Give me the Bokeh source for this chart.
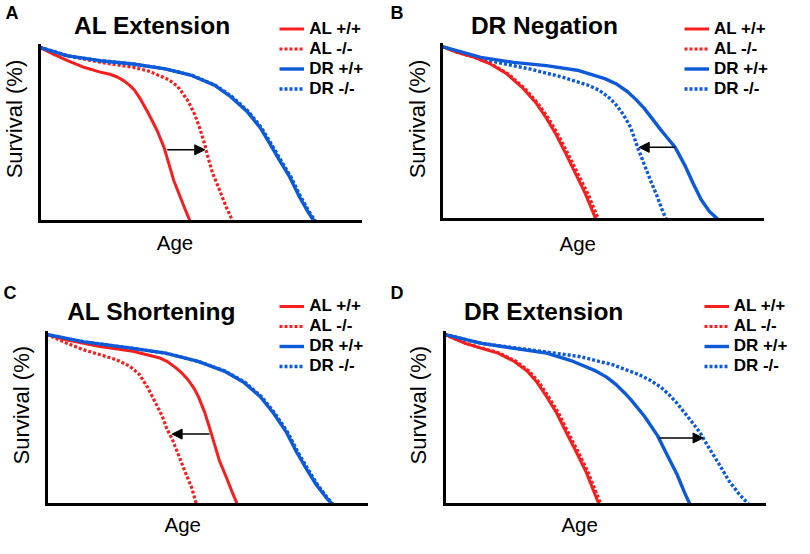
import math
from bokeh.plotting import figure
from bokeh.layouts import gridplot
from bokeh.models import (Label, Arrow, NormalHead, Legend, LegendItem,
                          Range1d, FixedTicker, LinearAxis)
from bokeh.embed import file_html
from bokeh.resources import INLINE

# ---------------- data (age as % of axis length, survival %) ----------------
A_AL_WT_AGE = [0, 4.6, 8.7, 13.8, 18.9, 21.9, 24.2, 26.2, 28.0, 29.6, 31.6, 33.6, 35.3, 36.7, 38.8, 40.3, 41.8, 43.8, 45.4, 46.9]
A_AL_WT_SURV = [100, 95.8, 92.3, 88.5, 85.7, 84.5, 82.9, 80.8, 78.2, 75.3, 69.7, 63.1, 57.0, 51.8, 42.4, 33.0, 23.5, 14.1, 6.6, 0]
A_AL_KO_AGE = [0, 8.7, 18.9, 29.1, 34.0, 37.2, 39.5, 41.3, 43.0, 44.3, 46.4, 48.4, 49.9, 51.5, 52.5, 54.0, 56.1, 58.1, 60.2]
A_AL_KO_SURV = [100, 95.1, 91.4, 88.5, 86.3, 83.8, 82.0, 80.0, 77.5, 74.4, 68.7, 61.2, 53.7, 44.2, 36.7, 27.3, 17.9, 8.5, 0]
A_DR_WT_AGE = [0, 8.7, 18.9, 29.1, 39.2, 47.4, 54.5, 59.6, 64.7, 68.8, 71.9, 74.9, 78.0, 81.0, 83.6, 85.6]
A_DR_WT_SURV = [100, 95.1, 92.3, 90.4, 87.6, 83.8, 78.2, 71.6, 63.1, 53.7, 44.2, 34.8, 25.4, 14.1, 5.6, 0]
A_DR_KO_AGE = [0, 8.7, 18.9, 29.1, 39.2, 47.6, 54.8, 60.0, 65.1, 69.2, 72.3, 75.3, 78.4, 81.4, 84.0, 86.0]
A_DR_KO_SURV = [100, 95.1, 92.3, 90.4, 87.6, 83.8, 78.2, 71.6, 63.1, 53.7, 44.2, 34.8, 25.4, 14.1, 5.6, 0]

B_AL_WT_AGE = [0, 5.1, 10.2, 15.2, 20.3, 25.4, 29.5, 32.6, 35.6, 38.7, 41.7, 44.7, 48.0]
B_AL_WT_SURV = [100, 96.4, 93.6, 89.8, 84.1, 75.6, 67.0, 58.5, 49.1, 37.7, 26.3, 14.9, 0]
B_AL_KO_AGE = [0, 5.1, 10.4, 15.5, 20.7, 25.9, 30.0, 33.2, 36.2, 39.4, 42.4, 45.5, 48.8]
B_AL_KO_SURV = [100, 96.4, 93.6, 89.8, 84.1, 75.6, 67.0, 58.5, 49.1, 37.7, 26.3, 14.9, 0]
B_DR_WT_AGE = [0, 12.2, 22.4, 32.6, 42.7, 50.8, 54.6, 57.9, 60.6, 63.0, 65.6, 68.1, 70.5, 72.7, 75.7, 78.3, 80.8, 83.3, 85.9]
B_DR_WT_SURV = [100, 93.6, 90.7, 88.8, 86.0, 81.3, 78.0, 73.7, 69.0, 64.2, 58.0, 51.9, 46.5, 41.5, 31.1, 20.6, 11.2, 4.5, 0]
B_DR_KO_AGE = [0, 7.1, 17.3, 27.4, 37.6, 45.7, 49.0, 51.8, 54.0, 55.9, 57.5, 58.9, 61.0, 63.0, 65.0, 67.1, 68.6, 69.9]
B_DR_KO_SURV = [100, 95.5, 90.7, 86.9, 82.2, 77.4, 74.6, 70.9, 66.8, 62.3, 57.5, 52.8, 41.5, 32.0, 22.5, 13.1, 5.5, 0]

C_AL_WT_AGE = [0, 6.5, 16.7, 27.0, 35.2, 38.0, 40.3, 42.5, 44.4, 46.1, 47.5, 49.5, 51.1, 52.6, 54.1, 56.2, 58.2, 59.7]
C_AL_WT_SURV = [100, 96.7, 92.9, 90.1, 86.3, 83.8, 80.6, 77.0, 73.0, 68.4, 63.5, 54.1, 44.6, 35.1, 25.7, 16.2, 6.7, 0]
C_AL_KO_AGE = [0, 6.5, 11.7, 16.8, 21.9, 26.0, 29.0, 31.6, 34.2, 36.2, 37.7, 39.3, 41.3, 43.3, 45.4, 46.9]
C_AL_KO_SURV = [100, 94.7, 90.9, 88.0, 85.1, 81.3, 76.6, 68.9, 59.4, 51.8, 44.2, 38.5, 29.0, 19.4, 9.9, 0]
C_DR_WT_AGE = [0, 11.7, 27.0, 37.2, 47.4, 55.6, 61.7, 66.9, 71.0, 75.1, 78.2, 81.2, 84.3, 87.4, 89.4]
C_DR_WT_SURV = [100, 95.6, 91.8, 89.0, 84.1, 78.4, 71.8, 63.3, 53.7, 42.3, 30.9, 21.3, 11.8, 4.2, 0]
C_DR_KO_AGE = [0, 11.7, 27.0, 37.2, 47.6, 55.9, 62.1, 67.3, 71.4, 75.5, 78.6, 81.6, 84.7, 87.7, 89.6]
C_DR_KO_SURV = [100, 95.6, 91.8, 89.0, 84.1, 78.4, 71.8, 63.3, 53.7, 42.3, 30.9, 21.3, 11.8, 4.2, 0]

D_AL_WT_AGE = [0, 6.5, 11.6, 16.7, 21.7, 25.8, 28.9, 31.9, 35.0, 38.0, 41.1, 44.1, 48.2]
D_AL_WT_SURV = [100, 94.7, 91.8, 89.0, 84.2, 78.5, 71.8, 63.3, 53.7, 42.3, 30.9, 19.4, 0]
D_AL_KO_AGE = [0, 6.7, 12.0, 17.2, 22.3, 26.4, 29.5, 32.5, 35.6, 38.6, 41.7, 44.7, 48.8]
D_AL_KO_SURV = [100, 94.7, 91.8, 89.0, 84.2, 78.5, 71.8, 63.3, 53.7, 42.3, 30.9, 19.4, 0]
D_DR_WT_AGE = [0, 11.6, 21.7, 31.9, 40.0, 47.2, 50.5, 53.3, 56.0, 58.3, 62.4, 66.5, 69.5, 72.6, 75.1, 76.6]
D_DR_WT_SURV = [100, 94.7, 91.8, 89.0, 84.2, 78.5, 75.0, 70.9, 66.0, 61.3, 51.8, 40.4, 29.0, 17.5, 6.1, 0]
D_DR_KO_AGE = [0, 11.6, 26.8, 42.1, 52.2, 60.4, 64.2, 67.5, 70.2, 72.6, 76.6, 79.7, 82.7, 85.8, 88.8, 91.9, 94.9]
D_DR_KO_SURV = [100, 94.7, 90.9, 87.0, 82.3, 76.6, 73.0, 69.0, 64.3, 59.4, 49.9, 42.3, 32.7, 23.3, 13.7, 6.1, 0]

# arrows: (age start, age end, survival level)
ARROW_A = [39.8, 51.5, 41.0]
ARROW_B = [72.7, 61.5, 41.5]
ARROW_C = [51.0, 39.3, 41.3]
ARROW_D = [67.0, 80.7, 39.0]

LETTERS = ["A", "B", "C", "D"]
TITLES = ["AL Extension", "DR Negation", "AL Shortening", "DR Extension"]
SERIES_LABELS = ["AL +/+", "AL -/-", "DR +/+", "DR -/-"]
X_LABEL = "Age"
Y_LABEL = "Survival (%)"

# ---------------- styling / layout ----------------
S = 0.98
FONT = "Liberation Sans"
RED = "#f61e1e"
BLUE = "#0d5ad8"
COLORS = [RED, RED, BLUE, BLUE]
DASHES = ["solid", "3 2", "solid", "3 2"]
WIDTHS = [3, 3.2, 3.4, 3.4]

# panel boxes on screen (x, y, w, h); all other positions in reference pixels
BOXES = [(0, 0, 387, 269), (387, 0, 407, 269), (0, 269, 387, 269), (387, 269, 407, 269)]
LAYOUT = [
    dict(frame=(40, 367, 46, 225), letter=(5, 12.5), title=(75, 25.5),
         xlab=(178, 247), ylab=(14, 121), legend=(285, 33, 19)),
    dict(frame=(450, 778, 45, 223), letter=(398, 12.5), title=(480, 25),
         xlab=(589, 247.5), ylab=(426, 121), legend=(698, 33, 19)),
    dict(frame=(47, 373, 339, 514), letter=(3, 298.5), title=(68, 317.5),
         xlab=(186, 535), ylab=(21, 413), legend=(285, 312, 20)),
    dict(frame=(453, 780, 339, 514), letter=(398, 298.5), title=(473, 317.5),
         xlab=(591, 535), ylab=(427, 413), legend=(718, 312, 20)),
]

DATA = [
    [(A_AL_WT_AGE, A_AL_WT_SURV), (A_AL_KO_AGE, A_AL_KO_SURV), (A_DR_WT_AGE, A_DR_WT_SURV), (A_DR_KO_AGE, A_DR_KO_SURV)],
    [(B_AL_WT_AGE, B_AL_WT_SURV), (B_AL_KO_AGE, B_AL_KO_SURV), (B_DR_WT_AGE, B_DR_WT_SURV), (B_DR_KO_AGE, B_DR_KO_SURV)],
    [(C_AL_WT_AGE, C_AL_WT_SURV), (C_AL_KO_AGE, C_AL_KO_SURV), (C_DR_WT_AGE, C_DR_WT_SURV), (C_DR_KO_AGE, C_DR_KO_SURV)],
    [(D_AL_WT_AGE, D_AL_WT_SURV), (D_AL_KO_AGE, D_AL_KO_SURV), (D_DR_WT_AGE, D_DR_WT_SURV), (D_DR_KO_AGE, D_DR_KO_SURV)],
]
ARROWS = [ARROW_A, ARROW_B, ARROW_C, ARROW_D]

XMAX = 100.0
YMAX = 101.0


def make_panel(i):
    lay = LAYOUT[i]
    sx0, sy0, W, H = BOXES[i]

    def loc(gx, gy):
        return gx * S - sx0, gy * S - sy0

    fl, fr, ft, fb = lay["frame"]
    axl, ayt = loc(fl, ft)
    axr, ayb = loc(fr, fb)
    kx = XMAX / (axr - axl)
    ky = YMAX / (ayb - ayt)
    x_range = Range1d(-axl * kx, (W - axl) * kx)
    y_range = Range1d((ayb - H) * ky, ayb * ky)

    def to_data(gx, gy):
        lx, ly = loc(gx, gy)
        return ((lx - axl) * kx, (ayb - ly) * ky)

    p = figure(width=W, height=H, x_range=x_range, y_range=y_range,
               output_backend="svg", toolbar_location=None,
               x_axis_location=None, y_axis_location=None,
               min_border=0, min_border_left=0, min_border_right=0,
               min_border_top=0, min_border_bottom=0)
    p.grid.visible = False
    p.outline_line_color = None
    p.background_fill_color = "white"
    p.border_fill_color = "white"

    for place, bnd in (("below", (0, XMAX)), ("left", (0, YMAX))):
        ax = LinearAxis(fixed_location=0, bounds=bnd, ticker=FixedTicker(ticks=[]),
                        major_tick_line_color=None, minor_tick_line_color=None,
                        major_label_text_font_size="0px",
                        axis_line_width=3, axis_line_color="black", axis_line_cap="square")
        p.add_layout(ax, place)

    # curves: dotted first, solid on top
    rends = {}
    for k in [1, 3, 0, 2]:
        xs, ys = DATA[i][k]
        rends[k] = p.line(xs, ys, line_color=COLORS[k], line_width=WIDTHS[k],
                          line_dash=DASHES[k], line_join="round")

    # arrow
    a0, a1, lev = ARROWS[i]
    p.add_layout(Arrow(end=NormalHead(size=10, fill_color="black", line_color="black"),
                       x_start=a0, y_start=lev, x_end=a1, y_end=lev,
                       line_color="black", line_width=1.5))

    # texts (vertical position = middle of capitals)
    x, y = to_data(*lay["letter"])
    p.add_layout(Label(x=x, y=y, text=LETTERS[i], text_font=FONT, text_font_style="bold",
                       text_color="black",
                       text_font_size="18px", text_baseline="middle", text_align="left"))
    x, y = to_data(*lay["title"])
    p.add_layout(Label(x=x, y=y, text=TITLES[i], text_font=FONT, text_font_style="bold",
                       text_color="black",
                       text_font_size="24.5px", text_baseline="middle", text_align="left"))
    x, y = to_data(*lay["xlab"])
    p.add_layout(Label(x=x, y=y, text=X_LABEL, text_font=FONT, text_color="black",
                       text_font_size="20.5px", text_baseline="middle", text_align="center"))
    x, y = to_data(*lay["ylab"])
    p.add_layout(Label(x=x, y=y, text=Y_LABEL, text_font=FONT, angle=math.pi / 2,
                       text_color="black",
                       text_font_size="22px", text_baseline="middle", text_align="center"))

    # legend
    items = [LegendItem(label=SERIES_LABELS[k], renderers=[rends[k]]) for k in range(4)]
    gx, gy_c, row_ref = lay["legend"]
    row = round(row_ref * S)
    lx, ly_c = loc(gx, gy_c)
    ly_bottom = ly_c - row / 2 + 4 * row
    leg = Legend(items=items, location=(lx, H - ly_bottom), padding=0, margin=0, spacing=0,
                 glyph_width=25, glyph_height=row, label_height=row, label_standoff=5,
                 label_text_font=FONT, label_text_font_style="bold", label_text_font_size="17px",
                 label_text_color="black",
                 border_line_color=None, background_fill_alpha=0)
    p.add_layout(leg)
    return p


panels = [make_panel(i) for i in range(4)]
grid = gridplot([[panels[0], panels[1]], [panels[2], panels[3]]], toolbar_location=None)

open("out.html", "w").write(file_html(grid, INLINE))
